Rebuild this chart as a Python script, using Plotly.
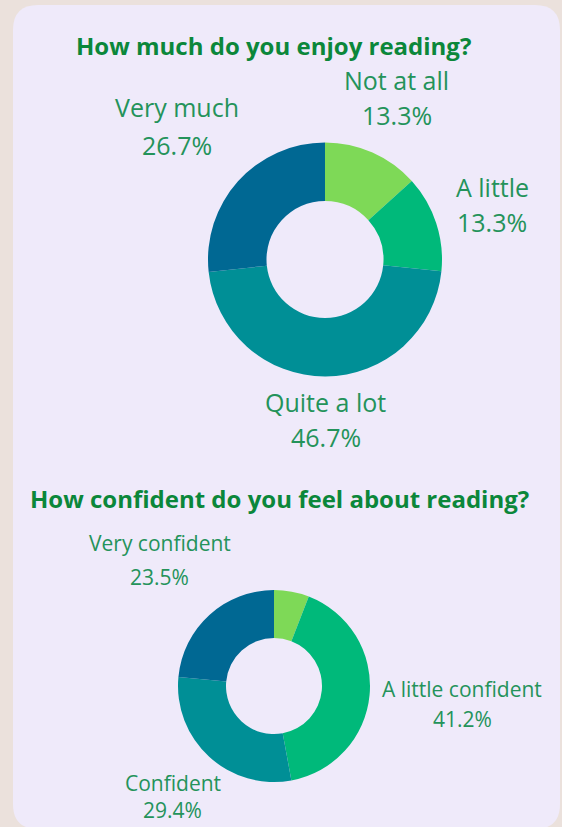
import math
import plotly.graph_objects as go

W, H = 562, 827

# ---- data ----
enjoy_title = "How much do you enjoy reading?"
enjoy_labels = ["Not at all", "A little", "Quite a lot", "Very much"]
enjoy_values = [13.3, 13.3, 46.7, 26.7]

conf_title = "How confident do you feel about reading?"
conf_labels = ["Not confident", "A little confident", "Confident", "Very confident"]
conf_values = [5.9, 41.2, 29.4, 23.5]
conf_show = [False, True, True, True]

# ---- style ----
slice_colors = ["#7ed957", "#00b97a", "#008f96", "#006893"]
outer_bg = "#ebe1dc"
card_bg = "#efeafa"
title_color = "#0b873a"
label_color = "#24935a"
FONT = "Open Sans"

# geometry (pixels): centre x, centre y, radius, label distance, line gap
g1 = dict(cx=325, cy=259.5, r=117, dist=[177, 176, 160, 199],
          gap=[35, 35, 35, 38], size=25)
g2 = dict(cx=274, cy=686, r=96, dist=[150, 189, 150, 170],
          gap=[31, 30, 27, 34], size=21)


def px(x):
    return x / W


def py(y):
    return 1 - y / H


def domain(g):
    return dict(x=[px(g["cx"] - g["r"]), px(g["cx"] + g["r"])],
                y=[py(g["cy"] + g["r"]), py(g["cy"] - g["r"])])


fig = go.Figure()
for labels, values, g in [(enjoy_labels, enjoy_values, g1), (conf_labels, conf_values, g2)]:
    fig.add_trace(go.Pie(
        labels=labels, values=values, hole=0.5, sort=False,
        direction="clockwise", rotation=0, textinfo="none",
        marker=dict(colors=slice_colors, line=dict(width=0)),
        domain=domain(g), showlegend=False, hoverinfo="label+percent",
    ))

annotations = []


def add_labels(labels, values, g, show=None):
    total = sum(values)
    cum = 0
    for i, (lab, v) in enumerate(zip(labels, values)):
        mid = 2 * math.pi * (cum + v / 2) / total
        cum += v
        if show is not None and not show[i]:
            continue
        d = g["dist"][i]
        gap = g["gap"][i]
        x = g["cx"] + d * math.sin(mid)
        y = g["cy"] - d * math.cos(mid)
        for txt, dy in [(lab, -gap / 2), (f"{v / total * 100:.1f}%", gap / 2)]:
            annotations.append(dict(
                x=px(x), y=py(y + dy), xref="paper", yref="paper",
                text=txt, showarrow=False, xanchor="center", yanchor="middle",
                font=dict(family=FONT, size=g["size"], color=label_color),
            ))


add_labels(enjoy_labels, enjoy_values, g1)
add_labels(conf_labels, conf_values, g2, conf_show)

for txt, x, y in [(enjoy_title, 273.5, 45), (conf_title, 279, 498)]:
    annotations.append(dict(
        x=px(x), y=py(y), xref="paper", yref="paper", text=f"<b>{txt}</b>",
        showarrow=False, xanchor="center", yanchor="middle",
        font=dict(family=FONT, size=24, color=title_color),
    ))

# rounded card
x0, y0, x1, y1, rr = 13, 5, 560, 829, 25
rx, ry = rr / W, rr / H
X0, X1, Y0, Y1 = px(x0), px(x1), py(y0), py(y1)
path = (f"M {X0 + rx},{Y0} L {X1 - rx},{Y0} Q {X1},{Y0} {X1},{Y0 - ry} "
        f"L {X1},{Y1 + ry} Q {X1},{Y1} {X1 - rx},{Y1} "
        f"L {X0 + rx},{Y1} Q {X0},{Y1} {X0},{Y1 + ry} "
        f"L {X0},{Y0 - ry} Q {X0},{Y0} {X0 + rx},{Y0} Z")

fig.update_layout(
    width=W, height=H,
    margin=dict(l=0, r=0, t=0, b=0),
    paper_bgcolor=outer_bg, plot_bgcolor=outer_bg,
    shapes=[dict(type="path", path=path, xref="paper", yref="paper",
                 fillcolor=card_bg, line=dict(width=0), layer="below")],
    annotations=annotations,
    font=dict(family=FONT),
)

fig.write_html(
    "out.html",
    config={"displayModeBar": False},
    post_script="document.body.style.margin='0px';document.body.style.overflow='hidden';",
)
